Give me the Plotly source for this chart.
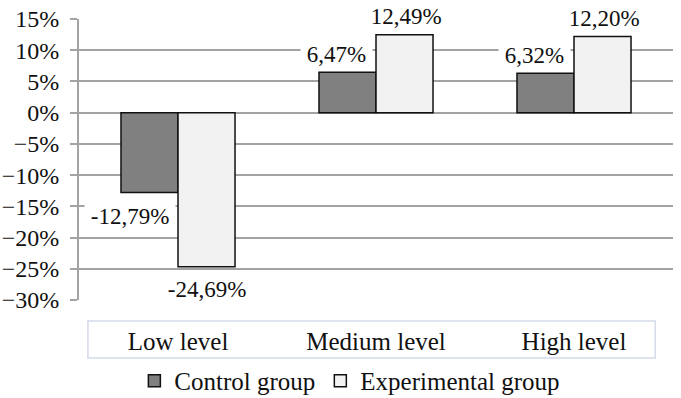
import plotly.graph_objects as go

categories = ["Low level", "Medium level", "High level"]
control = [-12.79, 6.47, 6.32]
experimental = [-24.69, 12.49, 12.20]
control_labels = ["-12,79%", "6,47%", "6,32%"]
experimental_labels = ["-24,69%", "12,49%", "12,20%"]
series_names = ["Control group", "Experimental group"]

FONT = "Liberation Serif, Times New Roman, serif"
INK = "#111111"
GRID = "#a3a3a3"
NB = "\u00a0"

fig = go.Figure()
fig.add_trace(go.Bar(x=categories, y=control, name=series_names[0],
                     marker=dict(color="#808080", line=dict(color=INK, width=1.5))))
fig.add_trace(go.Bar(x=categories, y=experimental, name=series_names[1],
                     marker=dict(color="#f2f2f2", line=dict(color=INK, width=1.5))))

# data labels
half = 28.5
for cat, v, t in zip(categories, control, control_labels):
    neg = v < 0
    fig.add_annotation(x=cat, y=v, xref="x", yref="y", text=NB + t + NB, showarrow=False,
                       xshift=-half + (-20 if neg else -11),
                       yshift=(-24 if neg else 18),
                       bgcolor="white", borderpad=0,
                       font=dict(family=FONT, size=23, color=INK))
for cat, v, t in zip(categories, experimental, experimental_labels):
    neg = v < 0
    fig.add_annotation(x=cat, y=v, xref="x", yref="y", text=NB + t + NB, showarrow=False,
                       xshift=half + (0 if neg else 1),
                       yshift=(-23 if neg else 18),
                       bgcolor="white", borderpad=0,
                       font=dict(family=FONT, size=23, color=INK))

# box around category labels
fig.add_shape(type="rect", xref="paper", yref="paper",
              x0=0.015, x1=0.970, y0=-0.206, y1=-0.075,
              line=dict(color="#d5daea", width=1.5), fillcolor="rgba(0,0,0,0)")

fig.update_layout(
    width=681, height=398,
    margin=dict(l=79, r=8, t=19, b=98, autoexpand=False),
    paper_bgcolor="white", plot_bgcolor="white",
    barmode="group", bargap=0.424, bargroupgap=0,
    font=dict(family=FONT, size=24, color=INK),
    showlegend=True,
    legend=dict(orientation="h", x=0.456, xanchor="center", y=-0.288, yanchor="middle",
                font=dict(family=FONT, size=25, color=INK),
                bgcolor="rgba(0,0,0,0)", traceorder="normal"),
    yaxis=dict(range=[-30, 15], dtick=5, tick0=0, ticksuffix="%",
               automargin=False, ticklabeloverflow="allow",
               showgrid=True, gridcolor=GRID, gridwidth=2,
               zeroline=True, zerolinecolor=GRID, zerolinewidth=2,
               showline=True, linecolor=GRID, linewidth=2,
               ticks="outside", ticklen=7, tickcolor=GRID, tickwidth=2,
               ticklabelstandoff=6,
               tickfont=dict(family=FONT, size=24, color=INK)),
    xaxis=dict(showgrid=False, showline=False, zeroline=False, ticks="",
               automargin=False,
               ticklabelstandoff=24,
               tickfont=dict(family=FONT, size=25, color=INK)),
)

fig.write_html(
    "out.html",
    config={"displayModeBar": False},
    post_script="document.body.style.margin='0';document.body.style.padding='0';",
)
